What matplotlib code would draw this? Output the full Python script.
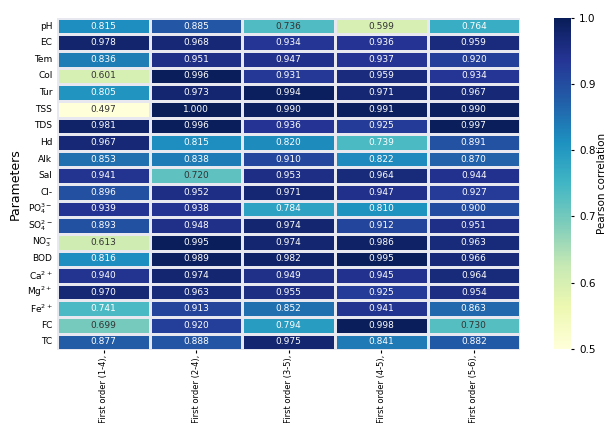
import numpy as np
import matplotlib
matplotlib.use("Agg")
import matplotlib.pyplot as plt
import seaborn as sns

params = ["pH", "EC", "Tem", "Col", "Tur", "TSS", "TDS", "Hd", "Alk", "Sal", "Cl-",
          r"PO$_4^{3-}$", r"SO$_4^{2-}$", r"NO$_3^{-}$", "BOD", r"Ca$^{2+}$", r"Mg$^{2+}$",
          r"Fe$^{2+}$", "FC", "TC"]
models = ["First order (1-4),", "First order (2-4),", "First order (3-5),",
          "First order (4-5),", "First order (5-6),"]

col_1_4 = [0.815, 0.978, 0.836, 0.601, 0.805, 0.497, 0.981, 0.967, 0.853, 0.941,
           0.896, 0.939, 0.893, 0.613, 0.816, 0.940, 0.970, 0.741, 0.699, 0.877]
col_2_4 = [0.885, 0.968, 0.951, 0.996, 0.973, 1.000, 0.996, 0.815, 0.838, 0.720,
           0.952, 0.938, 0.948, 0.995, 0.989, 0.974, 0.963, 0.913, 0.920, 0.888]
col_3_5 = [0.736, 0.934, 0.947, 0.931, 0.994, 0.990, 0.936, 0.820, 0.910, 0.953,
           0.971, 0.784, 0.974, 0.974, 0.982, 0.949, 0.955, 0.852, 0.794, 0.975]
col_4_5 = [0.599, 0.936, 0.937, 0.959, 0.971, 0.991, 0.925, 0.739, 0.822, 0.964,
           0.947, 0.810, 0.912, 0.986, 0.995, 0.945, 0.925, 0.941, 0.998, 0.841]
col_5_6 = [0.764, 0.959, 0.920, 0.934, 0.967, 0.990, 0.997, 0.891, 0.870, 0.944,
           0.927, 0.900, 0.951, 0.963, 0.966, 0.964, 0.954, 0.863, 0.730, 0.882]

data = np.array([col_1_4, col_2_4, col_3_5, col_4_5, col_5_6]).T

fig = plt.figure(figsize=(6.09, 4.23), dpi=100)
ax = fig.add_axes([0.094, 0.172, 0.760, 0.786])
cax = fig.add_axes([0.910, 0.175, 0.028, 0.783])

sns.heatmap(data, ax=ax, cbar_ax=cax, cmap="YlGnBu", vmin=0.5, vmax=1.0,
            annot=False, linewidths=1, linecolor="#e8e8f0",
            xticklabels=models, yticklabels=params)

nrows, ncols = data.shape
for i in range(nrows):
    for j in range(ncols):
        v = data[i, j]
        ax.text(j + 0.5, i + 0.5, f"{v:.3f}", ha="center", va="center",
                fontsize=6.5, color="#333333" if v < 0.737 else "white")

ax.set_ylabel("Parameters", fontsize=9)
ax.tick_params(axis="y", labelsize=6.5, length=0, rotation=0)
ax.tick_params(axis="x", labelsize=6.0, length=2, pad=1, rotation=90)
for t in ax.get_xticklabels():
    t.set_va("top")
cax.tick_params(labelsize=7.5, length=2)
cax.set_yticks([0.5, 0.6, 0.7, 0.8, 0.9, 1.0])
cax.set_ylabel("Pearson correlation", fontsize=7.5, labelpad=1)

fig.savefig("out.png", dpi=100)
